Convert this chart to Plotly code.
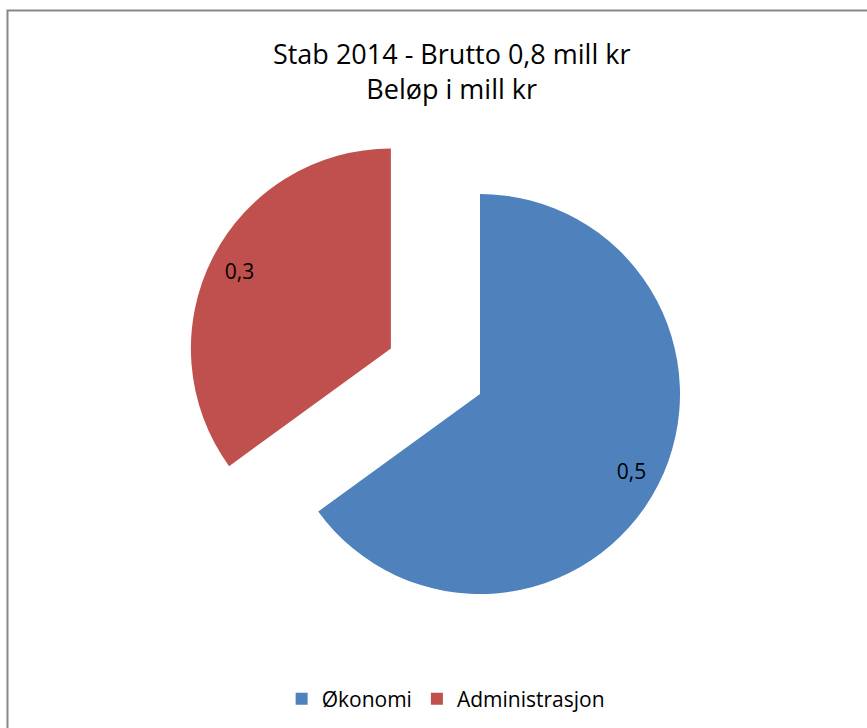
import plotly.graph_objects as go

categories = ["Økonomi", "Administrasjon"]
values = [0.52, 0.28]
colors = ["#4F81BD", "#C0504D"]
pulls = [0, 0.5]
title_lines = ["Stab 2014 - Brutto 0,8 mill kr", "Beløp i mill kr"]

W, H = 867, 728
cx, cy, half = 480, 394, 300
dom = dict(x=[(cx - half) / W, (cx + half) / W],
           y=[(H - cy - half) / H, (H - cy + half) / H])

fig = go.Figure()
fig.add_trace(go.Pie(
    labels=categories, values=values, sort=False, direction="clockwise",
    rotation=0, pull=pulls, marker=dict(colors=colors, line=dict(width=0)),
    textinfo="none", hoverinfo="label+value", domain=dom,
))
# transparent ring overlay used only to place the data labels near the rim
fig.add_trace(go.Pie(
    labels=categories, values=values, sort=False, direction="clockwise",
    rotation=0, pull=pulls, hole=0.7, showlegend=False,
    marker=dict(colors=["rgba(0,0,0,0)"] * 2, line=dict(width=0)),
    texttemplate="%{value:.1f}", textposition="inside",
    insidetextorientation="horizontal",
    textfont=dict(size=21, color="black", family="Open Sans"),
    hoverinfo="skip", domain=dom,
))

fig.update_layout(
    width=W, height=H, separators=",.",
    margin=dict(l=0, r=0, t=0, b=0),
    paper_bgcolor="white", plot_bgcolor="white",
    font=dict(family="Open Sans", color="black"),
    title=dict(text="<br>".join(title_lines), x=0.521, xanchor="center",
               y=1 - 64 / H, yanchor="middle",
               font=dict(size=27, family="Open Sans", color="black")),
    legend=dict(orientation="h", x=0.514, xanchor="center", y=1 - 699 / H,
                yanchor="middle", font=dict(size=21, family="Open Sans"),
                traceorder="normal"),
    shapes=[dict(type="rect", xref="paper", yref="paper",
                 x0=7.5 / W, x1=1.02, y0=-0.02, y1=1 - 10.5 / H,
                 line=dict(color="#878787", width=2), fillcolor="rgba(0,0,0,0)")],
)

fig.write_html("out.html", config={"displayModeBar": False})
with open("out.html", encoding="utf-8") as f:
    html = f.read()
html = html.replace("<head>", "<head><style>html,body{margin:0;padding:0;overflow:hidden;}</style>", 1)
with open("out.html", "w", encoding="utf-8") as f:
    f.write(html)
